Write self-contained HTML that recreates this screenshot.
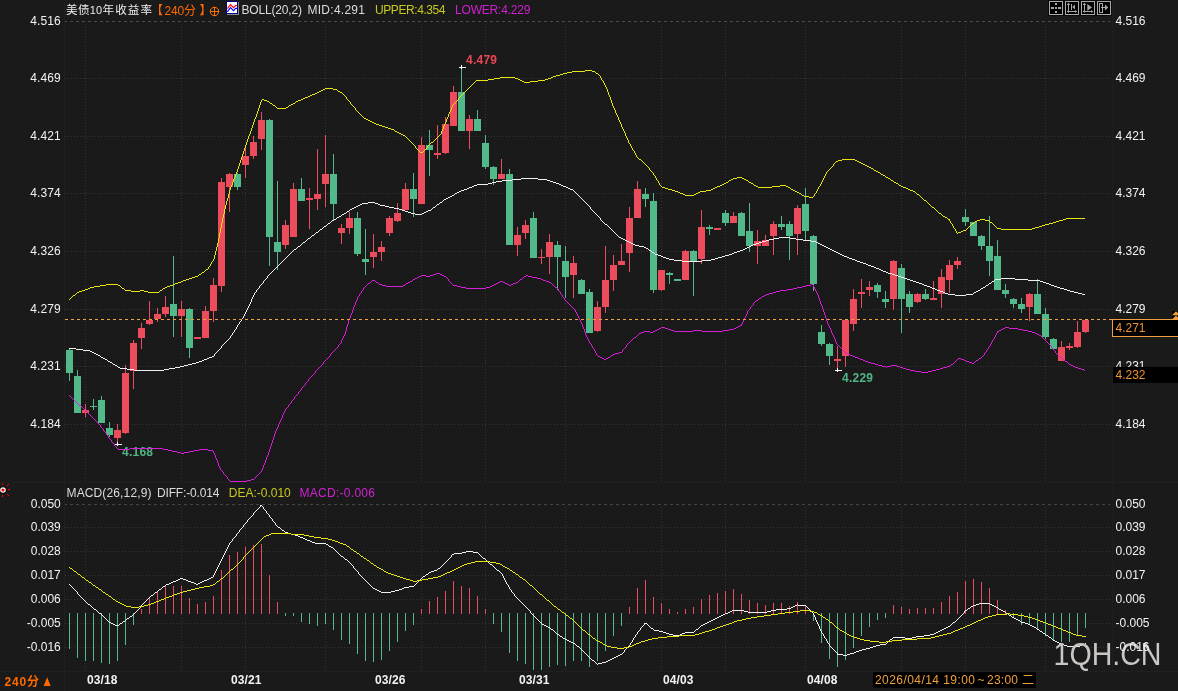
<!DOCTYPE html>
<html lang="zh"><head><meta charset="utf-8"><title>美债10年收益率 240分</title>
<style>
html,body{margin:0;padding:0;background:#1a1a1a;}
body{width:1178px;height:691px;overflow:hidden;position:relative;}
svg{display:block;position:absolute;left:0;top:0;}
text{font-family:"Liberation Sans","Noto Sans CJK SC",sans-serif;font-size:12px;}
.ax{fill:#f2f2f2;}
.b{font-weight:bold;}
.ce{shape-rendering:crispEdges;}
</style></head><body>
<svg width="1178" height="691" viewBox="0 0 1178 691">
<rect x="0" y="0" width="1178" height="691" fill="#1a1a1a"/>
<g class="ce" stroke="#202020" stroke-width="1" fill="none">
<line x1="64.5" y1="0" x2="64.5" y2="691"/>
<line x1="1112.5" y1="0" x2="1112.5" y2="671" stroke="#1e1e1e"/>
<line x1="0" y1="482.5" x2="1178" y2="482.5"/>
<line x1="0" y1="671.5" x2="1178" y2="671.5"/>
</g>
<g class="ce" stroke="#353535" stroke-width="1" fill="none">
<line x1="65" y1="21.5" x2="1110" y2="21.5" stroke="#4a4a4a" stroke-dasharray="3 3" stroke-dashoffset="1"/>
<line x1="65" y1="504.5" x2="1110" y2="504.5" stroke="#444444" stroke-dasharray="3 3" stroke-dashoffset="1"/>
<line x1="65" y1="78.5" x2="1110" y2="78.5" stroke-dasharray="1 2"/>
<line x1="65" y1="136.5" x2="1110" y2="136.5" stroke-dasharray="1 2"/>
<line x1="65" y1="193.5" x2="1110" y2="193.5" stroke-dasharray="1 2"/>
<line x1="65" y1="251.5" x2="1110" y2="251.5" stroke-dasharray="1 2"/>
<line x1="65" y1="309.5" x2="1110" y2="309.5" stroke-dasharray="1 2"/>
<line x1="65" y1="366.5" x2="1110" y2="366.5" stroke-dasharray="1 2"/>
<line x1="65" y1="424.5" x2="1110" y2="424.5" stroke-dasharray="1 2"/>
<line x1="65" y1="527.5" x2="1110" y2="527.5" stroke-dasharray="1 2"/>
<line x1="65" y1="551.5" x2="1110" y2="551.5" stroke-dasharray="1 2"/>
<line x1="65" y1="575.5" x2="1110" y2="575.5" stroke-dasharray="1 2"/>
<line x1="65" y1="599.5" x2="1110" y2="599.5" stroke-dasharray="1 2"/>
<line x1="65" y1="623.5" x2="1110" y2="623.5" stroke-dasharray="1 2"/>
<line x1="65" y1="647.5" x2="1110" y2="647.5" stroke-dasharray="1 2"/>
<line x1="85.5" y1="24" x2="85.5" y2="481" stroke-dasharray="1 2"/>
<line x1="85.5" y1="507" x2="85.5" y2="670" stroke-dasharray="1 2"/>
<line x1="181.5" y1="24" x2="181.5" y2="481" stroke-dasharray="1 2"/>
<line x1="181.5" y1="507" x2="181.5" y2="670" stroke-dasharray="1 2"/>
<line x1="245.5" y1="24" x2="245.5" y2="481" stroke-dasharray="1 2"/>
<line x1="245.5" y1="507" x2="245.5" y2="670" stroke-dasharray="1 2"/>
<line x1="325.5" y1="24" x2="325.5" y2="481" stroke-dasharray="1 2"/>
<line x1="325.5" y1="507" x2="325.5" y2="670" stroke-dasharray="1 2"/>
<line x1="421.5" y1="24" x2="421.5" y2="481" stroke-dasharray="1 2"/>
<line x1="421.5" y1="507" x2="421.5" y2="670" stroke-dasharray="1 2"/>
<line x1="485.5" y1="24" x2="485.5" y2="481" stroke-dasharray="1 2"/>
<line x1="485.5" y1="507" x2="485.5" y2="670" stroke-dasharray="1 2"/>
<line x1="565.5" y1="24" x2="565.5" y2="481" stroke-dasharray="1 2"/>
<line x1="565.5" y1="507" x2="565.5" y2="670" stroke-dasharray="1 2"/>
<line x1="661.5" y1="24" x2="661.5" y2="481" stroke-dasharray="1 2"/>
<line x1="661.5" y1="507" x2="661.5" y2="670" stroke-dasharray="1 2"/>
<line x1="725.5" y1="24" x2="725.5" y2="481" stroke-dasharray="1 2"/>
<line x1="725.5" y1="507" x2="725.5" y2="670" stroke-dasharray="1 2"/>
<line x1="805.5" y1="24" x2="805.5" y2="481" stroke-dasharray="1 2"/>
<line x1="805.5" y1="507" x2="805.5" y2="670" stroke-dasharray="1 2"/>
<line x1="901.5" y1="24" x2="901.5" y2="481" stroke-dasharray="1 2"/>
<line x1="901.5" y1="507" x2="901.5" y2="670" stroke-dasharray="1 2"/>
<line x1="965.5" y1="24" x2="965.5" y2="481" stroke-dasharray="1 2"/>
<line x1="965.5" y1="507" x2="965.5" y2="670" stroke-dasharray="1 2"/>
<line x1="1045.5" y1="24" x2="1045.5" y2="481" stroke-dasharray="1 2"/>
<line x1="1045.5" y1="507" x2="1045.5" y2="670" stroke-dasharray="1 2"/>
</g>
<g class="ce">
<rect x="69" y="348" width="1" height="33" fill="#52ba8a"/>
<rect x="66" y="350" width="7" height="23" fill="#52ba8a"/>
<rect x="77" y="370" width="1" height="43" fill="#52ba8a"/>
<rect x="74" y="376" width="7" height="37" fill="#52ba8a"/>
<rect x="85" y="404" width="1" height="13" fill="#ec4c5c"/>
<rect x="82" y="410" width="7" height="3" fill="#ec4c5c"/>
<rect x="93" y="399" width="1" height="11" fill="#52ba8a"/>
<rect x="90" y="406" width="7" height="1" fill="#52ba8a"/>
<rect x="101" y="396" width="1" height="27" fill="#52ba8a"/>
<rect x="98" y="400" width="7" height="23" fill="#52ba8a"/>
<rect x="109" y="422" width="1" height="15" fill="#52ba8a"/>
<rect x="106" y="428" width="7" height="7" fill="#52ba8a"/>
<rect x="117" y="424" width="1" height="20" fill="#ec4c5c"/>
<rect x="114" y="430" width="7" height="8" fill="#ec4c5c"/>
<rect x="125" y="365" width="1" height="69" fill="#ec4c5c"/>
<rect x="122" y="373" width="7" height="60" fill="#ec4c5c"/>
<rect x="133" y="340" width="1" height="49" fill="#ec4c5c"/>
<rect x="130" y="343" width="7" height="28" fill="#ec4c5c"/>
<rect x="141" y="323" width="1" height="26" fill="#ec4c5c"/>
<rect x="138" y="328" width="7" height="10" fill="#ec4c5c"/>
<rect x="149" y="301" width="1" height="24" fill="#ec4c5c"/>
<rect x="146" y="320" width="7" height="4" fill="#ec4c5c"/>
<rect x="157" y="308" width="1" height="14" fill="#ec4c5c"/>
<rect x="154" y="314" width="7" height="5" fill="#ec4c5c"/>
<rect x="165" y="296" width="1" height="21" fill="#ec4c5c"/>
<rect x="162" y="307" width="7" height="7" fill="#ec4c5c"/>
<rect x="173" y="256" width="1" height="81" fill="#52ba8a"/>
<rect x="170" y="304" width="7" height="12" fill="#52ba8a"/>
<rect x="181" y="301" width="1" height="36" fill="#ec4c5c"/>
<rect x="178" y="309" width="7" height="7" fill="#ec4c5c"/>
<rect x="189" y="308" width="1" height="50" fill="#52ba8a"/>
<rect x="186" y="309" width="7" height="39" fill="#52ba8a"/>
<rect x="197" y="337" width="1" height="2" fill="#ec4c5c"/>
<rect x="194" y="337" width="7" height="2" fill="#ec4c5c"/>
<rect x="205" y="306" width="1" height="32" fill="#ec4c5c"/>
<rect x="202" y="311" width="7" height="27" fill="#ec4c5c"/>
<rect x="213" y="278" width="1" height="44" fill="#ec4c5c"/>
<rect x="210" y="285" width="7" height="26" fill="#ec4c5c"/>
<rect x="221" y="178" width="1" height="114" fill="#ec4c5c"/>
<rect x="218" y="182" width="7" height="104" fill="#ec4c5c"/>
<rect x="229" y="173" width="1" height="39" fill="#ec4c5c"/>
<rect x="226" y="174" width="7" height="13" fill="#ec4c5c"/>
<rect x="237" y="173" width="1" height="17" fill="#52ba8a"/>
<rect x="234" y="174" width="7" height="13" fill="#52ba8a"/>
<rect x="245" y="148" width="1" height="30" fill="#ec4c5c"/>
<rect x="242" y="156" width="7" height="9" fill="#ec4c5c"/>
<rect x="253" y="136" width="1" height="23" fill="#ec4c5c"/>
<rect x="250" y="142" width="7" height="14" fill="#ec4c5c"/>
<rect x="261" y="112" width="1" height="38" fill="#ec4c5c"/>
<rect x="258" y="120" width="7" height="19" fill="#ec4c5c"/>
<rect x="269" y="119" width="1" height="147" fill="#52ba8a"/>
<rect x="266" y="120" width="7" height="117" fill="#52ba8a"/>
<rect x="277" y="181" width="1" height="89" fill="#52ba8a"/>
<rect x="274" y="242" width="7" height="10" fill="#52ba8a"/>
<rect x="285" y="220" width="1" height="29" fill="#ec4c5c"/>
<rect x="282" y="225" width="7" height="20" fill="#ec4c5c"/>
<rect x="293" y="183" width="1" height="54" fill="#ec4c5c"/>
<rect x="290" y="189" width="7" height="48" fill="#ec4c5c"/>
<rect x="301" y="178" width="1" height="23" fill="#52ba8a"/>
<rect x="298" y="189" width="7" height="12" fill="#52ba8a"/>
<rect x="309" y="188" width="1" height="41" fill="#ec4c5c"/>
<rect x="306" y="198" width="7" height="2" fill="#ec4c5c"/>
<rect x="317" y="149" width="1" height="61" fill="#ec4c5c"/>
<rect x="314" y="194" width="7" height="5" fill="#ec4c5c"/>
<rect x="325" y="135" width="1" height="72" fill="#ec4c5c"/>
<rect x="322" y="174" width="7" height="10" fill="#ec4c5c"/>
<rect x="333" y="154" width="1" height="66" fill="#52ba8a"/>
<rect x="330" y="174" width="7" height="30" fill="#52ba8a"/>
<rect x="341" y="224" width="1" height="20" fill="#ec4c5c"/>
<rect x="338" y="228" width="7" height="5" fill="#ec4c5c"/>
<rect x="349" y="212" width="1" height="22" fill="#ec4c5c"/>
<rect x="346" y="218" width="7" height="10" fill="#ec4c5c"/>
<rect x="357" y="212" width="1" height="44" fill="#52ba8a"/>
<rect x="354" y="218" width="7" height="36" fill="#52ba8a"/>
<rect x="365" y="229" width="1" height="46" fill="#52ba8a"/>
<rect x="362" y="259" width="7" height="3" fill="#52ba8a"/>
<rect x="373" y="234" width="1" height="34" fill="#ec4c5c"/>
<rect x="370" y="252" width="7" height="5" fill="#ec4c5c"/>
<rect x="381" y="241" width="1" height="20" fill="#ec4c5c"/>
<rect x="378" y="247" width="7" height="5" fill="#ec4c5c"/>
<rect x="389" y="216" width="1" height="20" fill="#ec4c5c"/>
<rect x="386" y="218" width="7" height="15" fill="#ec4c5c"/>
<rect x="397" y="203" width="1" height="19" fill="#ec4c5c"/>
<rect x="394" y="213" width="7" height="8" fill="#ec4c5c"/>
<rect x="405" y="183" width="1" height="27" fill="#ec4c5c"/>
<rect x="402" y="189" width="7" height="21" fill="#ec4c5c"/>
<rect x="413" y="173" width="1" height="44" fill="#52ba8a"/>
<rect x="410" y="189" width="7" height="10" fill="#52ba8a"/>
<rect x="421" y="137" width="1" height="67" fill="#ec4c5c"/>
<rect x="418" y="145" width="7" height="59" fill="#ec4c5c"/>
<rect x="429" y="130" width="1" height="46" fill="#52ba8a"/>
<rect x="426" y="145" width="7" height="5" fill="#52ba8a"/>
<rect x="437" y="125" width="1" height="34" fill="#ec4c5c"/>
<rect x="434" y="153" width="7" height="2" fill="#ec4c5c"/>
<rect x="445" y="117" width="1" height="37" fill="#ec4c5c"/>
<rect x="442" y="124" width="7" height="29" fill="#ec4c5c"/>
<rect x="453" y="86" width="1" height="40" fill="#ec4c5c"/>
<rect x="450" y="92" width="7" height="34" fill="#ec4c5c"/>
<rect x="461" y="68" width="1" height="63" fill="#52ba8a"/>
<rect x="458" y="92" width="7" height="39" fill="#52ba8a"/>
<rect x="469" y="115" width="1" height="34" fill="#ec4c5c"/>
<rect x="466" y="119" width="7" height="12" fill="#ec4c5c"/>
<rect x="477" y="110" width="1" height="21" fill="#52ba8a"/>
<rect x="474" y="119" width="7" height="12" fill="#52ba8a"/>
<rect x="485" y="135" width="1" height="34" fill="#52ba8a"/>
<rect x="482" y="143" width="7" height="24" fill="#52ba8a"/>
<rect x="493" y="166" width="1" height="19" fill="#52ba8a"/>
<rect x="490" y="167" width="7" height="12" fill="#52ba8a"/>
<rect x="501" y="159" width="1" height="20" fill="#ec4c5c"/>
<rect x="498" y="174" width="7" height="5" fill="#ec4c5c"/>
<rect x="509" y="169" width="1" height="76" fill="#52ba8a"/>
<rect x="506" y="174" width="7" height="71" fill="#52ba8a"/>
<rect x="517" y="227" width="1" height="29" fill="#ec4c5c"/>
<rect x="514" y="235" width="7" height="10" fill="#ec4c5c"/>
<rect x="525" y="220" width="1" height="19" fill="#ec4c5c"/>
<rect x="522" y="225" width="7" height="8" fill="#ec4c5c"/>
<rect x="533" y="212" width="1" height="46" fill="#52ba8a"/>
<rect x="530" y="218" width="7" height="40" fill="#52ba8a"/>
<rect x="541" y="249" width="1" height="15" fill="#ec4c5c"/>
<rect x="538" y="257" width="7" height="1" fill="#ec4c5c"/>
<rect x="549" y="234" width="1" height="40" fill="#ec4c5c"/>
<rect x="546" y="242" width="7" height="15" fill="#ec4c5c"/>
<rect x="557" y="241" width="1" height="49" fill="#52ba8a"/>
<rect x="554" y="245" width="7" height="12" fill="#52ba8a"/>
<rect x="565" y="246" width="1" height="52" fill="#52ba8a"/>
<rect x="562" y="261" width="7" height="16" fill="#52ba8a"/>
<rect x="573" y="256" width="1" height="42" fill="#ec4c5c"/>
<rect x="570" y="263" width="7" height="12" fill="#ec4c5c"/>
<rect x="581" y="279" width="1" height="15" fill="#52ba8a"/>
<rect x="578" y="280" width="7" height="14" fill="#52ba8a"/>
<rect x="589" y="289" width="1" height="44" fill="#52ba8a"/>
<rect x="586" y="292" width="7" height="41" fill="#52ba8a"/>
<rect x="597" y="301" width="1" height="31" fill="#ec4c5c"/>
<rect x="594" y="307" width="7" height="24" fill="#ec4c5c"/>
<rect x="605" y="246" width="1" height="67" fill="#ec4c5c"/>
<rect x="602" y="280" width="7" height="27" fill="#ec4c5c"/>
<rect x="613" y="255" width="1" height="36" fill="#ec4c5c"/>
<rect x="610" y="265" width="7" height="15" fill="#ec4c5c"/>
<rect x="621" y="244" width="1" height="21" fill="#ec4c5c"/>
<rect x="618" y="261" width="7" height="4" fill="#ec4c5c"/>
<rect x="629" y="207" width="1" height="65" fill="#ec4c5c"/>
<rect x="626" y="218" width="7" height="35" fill="#ec4c5c"/>
<rect x="637" y="181" width="1" height="37" fill="#ec4c5c"/>
<rect x="634" y="189" width="7" height="29" fill="#ec4c5c"/>
<rect x="645" y="188" width="1" height="19" fill="#52ba8a"/>
<rect x="642" y="194" width="7" height="5" fill="#52ba8a"/>
<rect x="653" y="193" width="1" height="100" fill="#52ba8a"/>
<rect x="650" y="201" width="7" height="89" fill="#52ba8a"/>
<rect x="661" y="270" width="1" height="21" fill="#ec4c5c"/>
<rect x="658" y="270" width="7" height="20" fill="#ec4c5c"/>
<rect x="669" y="272" width="1" height="12" fill="#52ba8a"/>
<rect x="666" y="273" width="7" height="2" fill="#52ba8a"/>
<rect x="677" y="279" width="1" height="2" fill="#52ba8a"/>
<rect x="674" y="279" width="7" height="2" fill="#52ba8a"/>
<rect x="685" y="250" width="1" height="30" fill="#ec4c5c"/>
<rect x="682" y="251" width="7" height="29" fill="#ec4c5c"/>
<rect x="693" y="250" width="1" height="46" fill="#52ba8a"/>
<rect x="690" y="251" width="7" height="10" fill="#52ba8a"/>
<rect x="701" y="210" width="1" height="54" fill="#ec4c5c"/>
<rect x="698" y="227" width="7" height="32" fill="#ec4c5c"/>
<rect x="709" y="225" width="1" height="10" fill="#52ba8a"/>
<rect x="706" y="227" width="7" height="2" fill="#52ba8a"/>
<rect x="717" y="228" width="1" height="2" fill="#ec4c5c"/>
<rect x="714" y="228" width="7" height="2" fill="#ec4c5c"/>
<rect x="725" y="210" width="1" height="16" fill="#52ba8a"/>
<rect x="722" y="213" width="7" height="10" fill="#52ba8a"/>
<rect x="733" y="212" width="1" height="11" fill="#ec4c5c"/>
<rect x="730" y="216" width="7" height="7" fill="#ec4c5c"/>
<rect x="741" y="212" width="1" height="24" fill="#52ba8a"/>
<rect x="738" y="213" width="7" height="23" fill="#52ba8a"/>
<rect x="749" y="203" width="1" height="49" fill="#52ba8a"/>
<rect x="746" y="231" width="7" height="15" fill="#52ba8a"/>
<rect x="757" y="230" width="1" height="34" fill="#ec4c5c"/>
<rect x="754" y="241" width="7" height="5" fill="#ec4c5c"/>
<rect x="765" y="235" width="1" height="11" fill="#ec4c5c"/>
<rect x="762" y="240" width="7" height="6" fill="#ec4c5c"/>
<rect x="773" y="221" width="1" height="34" fill="#ec4c5c"/>
<rect x="770" y="224" width="7" height="12" fill="#ec4c5c"/>
<rect x="781" y="216" width="1" height="14" fill="#52ba8a"/>
<rect x="778" y="224" width="7" height="3" fill="#52ba8a"/>
<rect x="789" y="221" width="1" height="39" fill="#52ba8a"/>
<rect x="786" y="224" width="7" height="12" fill="#52ba8a"/>
<rect x="797" y="205" width="1" height="50" fill="#ec4c5c"/>
<rect x="794" y="208" width="7" height="26" fill="#ec4c5c"/>
<rect x="805" y="188" width="1" height="52" fill="#52ba8a"/>
<rect x="802" y="204" width="7" height="27" fill="#52ba8a"/>
<rect x="813" y="235" width="1" height="56" fill="#52ba8a"/>
<rect x="810" y="236" width="7" height="48" fill="#52ba8a"/>
<rect x="821" y="325" width="1" height="21" fill="#52ba8a"/>
<rect x="818" y="332" width="7" height="12" fill="#52ba8a"/>
<rect x="829" y="343" width="1" height="22" fill="#52ba8a"/>
<rect x="826" y="344" width="7" height="12" fill="#52ba8a"/>
<rect x="837" y="346" width="1" height="24" fill="#ec4c5c"/>
<rect x="834" y="359" width="7" height="2" fill="#ec4c5c"/>
<rect x="845" y="319" width="1" height="48" fill="#ec4c5c"/>
<rect x="842" y="320" width="7" height="36" fill="#ec4c5c"/>
<rect x="853" y="289" width="1" height="42" fill="#ec4c5c"/>
<rect x="850" y="299" width="7" height="25" fill="#ec4c5c"/>
<rect x="861" y="279" width="1" height="29" fill="#ec4c5c"/>
<rect x="858" y="292" width="7" height="2" fill="#ec4c5c"/>
<rect x="869" y="281" width="1" height="15" fill="#ec4c5c"/>
<rect x="866" y="287" width="7" height="3" fill="#ec4c5c"/>
<rect x="877" y="283" width="1" height="15" fill="#52ba8a"/>
<rect x="874" y="285" width="7" height="7" fill="#52ba8a"/>
<rect x="885" y="291" width="1" height="17" fill="#52ba8a"/>
<rect x="882" y="299" width="7" height="3" fill="#52ba8a"/>
<rect x="893" y="260" width="1" height="50" fill="#ec4c5c"/>
<rect x="890" y="261" width="7" height="38" fill="#ec4c5c"/>
<rect x="901" y="264" width="1" height="69" fill="#52ba8a"/>
<rect x="898" y="268" width="7" height="31" fill="#52ba8a"/>
<rect x="909" y="291" width="1" height="22" fill="#52ba8a"/>
<rect x="906" y="294" width="7" height="13" fill="#52ba8a"/>
<rect x="917" y="293" width="1" height="10" fill="#ec4c5c"/>
<rect x="914" y="294" width="7" height="8" fill="#ec4c5c"/>
<rect x="925" y="289" width="1" height="11" fill="#52ba8a"/>
<rect x="922" y="294" width="7" height="5" fill="#52ba8a"/>
<rect x="933" y="281" width="1" height="19" fill="#ec4c5c"/>
<rect x="930" y="298" width="7" height="2" fill="#ec4c5c"/>
<rect x="941" y="269" width="1" height="39" fill="#ec4c5c"/>
<rect x="938" y="277" width="7" height="17" fill="#ec4c5c"/>
<rect x="949" y="260" width="1" height="33" fill="#ec4c5c"/>
<rect x="946" y="265" width="7" height="15" fill="#ec4c5c"/>
<rect x="957" y="257" width="1" height="12" fill="#ec4c5c"/>
<rect x="954" y="261" width="7" height="4" fill="#ec4c5c"/>
<rect x="965" y="209" width="1" height="17" fill="#52ba8a"/>
<rect x="962" y="217" width="7" height="5" fill="#52ba8a"/>
<rect x="973" y="222" width="1" height="14" fill="#52ba8a"/>
<rect x="970" y="222" width="7" height="14" fill="#52ba8a"/>
<rect x="981" y="235" width="1" height="15" fill="#52ba8a"/>
<rect x="978" y="236" width="7" height="10" fill="#52ba8a"/>
<rect x="989" y="216" width="1" height="60" fill="#52ba8a"/>
<rect x="986" y="246" width="7" height="15" fill="#52ba8a"/>
<rect x="997" y="240" width="1" height="50" fill="#52ba8a"/>
<rect x="994" y="256" width="7" height="34" fill="#52ba8a"/>
<rect x="1005" y="284" width="1" height="14" fill="#52ba8a"/>
<rect x="1002" y="290" width="7" height="4" fill="#52ba8a"/>
<rect x="1013" y="298" width="1" height="10" fill="#52ba8a"/>
<rect x="1010" y="299" width="7" height="5" fill="#52ba8a"/>
<rect x="1021" y="298" width="1" height="15" fill="#52ba8a"/>
<rect x="1018" y="304" width="7" height="5" fill="#52ba8a"/>
<rect x="1029" y="293" width="1" height="28" fill="#ec4c5c"/>
<rect x="1026" y="294" width="7" height="13" fill="#ec4c5c"/>
<rect x="1037" y="279" width="1" height="35" fill="#52ba8a"/>
<rect x="1034" y="294" width="7" height="20" fill="#52ba8a"/>
<rect x="1045" y="308" width="1" height="31" fill="#52ba8a"/>
<rect x="1042" y="314" width="7" height="23" fill="#52ba8a"/>
<rect x="1053" y="338" width="1" height="11" fill="#52ba8a"/>
<rect x="1050" y="339" width="7" height="10" fill="#52ba8a"/>
<rect x="1061" y="341" width="1" height="20" fill="#ec4c5c"/>
<rect x="1058" y="347" width="7" height="14" fill="#ec4c5c"/>
<rect x="1069" y="343" width="1" height="7" fill="#ec4c5c"/>
<rect x="1066" y="346" width="7" height="2" fill="#ec4c5c"/>
<rect x="1077" y="321" width="1" height="27" fill="#ec4c5c"/>
<rect x="1074" y="332" width="7" height="15" fill="#ec4c5c"/>
<rect x="1085" y="319" width="1" height="14" fill="#ec4c5c"/>
<rect x="1082" y="320" width="7" height="12" fill="#ec4c5c"/>
</g>
<text class="b" x="466" y="64" fill="#eb4655" textLength="31">4.479</text>
<text class="b" x="122" y="456" fill="#4fb486" textLength="31">4.168</text>
<text class="b" x="842" y="382" fill="#4fb486" textLength="31">4.229</text>
<path class="ce" d="M630.5 144v2M620.5 122v2M631.5 146v2M612.5 103v3M634.5 151v2M816.5 191v2M615.5 110v3M225.5 205v4M627.5 138v2M346.5 97v2M452.5 105v2M230.5 187v3M441.5 131v3M619.5 120v2M208.5 267v2M221.5 223v5M444.5 124v2M259.5 105v3M608.5 92v3M656.5 178v2M251.5 128v3M826.5 172v2M229.5 190v4M226.5 201v4M216.5 247v4M258.5 108v3M250.5 131v3M350.5 102v2M659.5 183v2M220.5 228v5M233.5 179v3M224.5 209v5M833.5 164v2M626.5 136v2M238.5 166v3M443.5 126v3M242.5 154v3M254.5 119v3M611.5 100v3M211.5 262v2M237.5 169v3M618.5 117v3M448.5 114v3M655.5 176v2M658.5 181v2M241.5 157v3M253.5 122v3M625.5 133v3M427.5 146v2M215.5 251v4M825.5 174v2M621.5 124v3M245.5 145v3M257.5 111v3M223.5 214v4M249.5 134v2M261.5 100v2M607.5 89v3M442.5 129v2M451.5 107v3M628.5 140v3M228.5 194v4M240.5 160v3M244.5 148v3M256.5 114v3M219.5 233v5M210.5 264v2M236.5 172v2M248.5 136v3M260.5 102v3M450.5 110v2M227.5 198v3M239.5 163v3M214.5 255v4M243.5 151v3M653.5 173v2M824.5 176v2M600.5 76v2M252.5 125v3M603.5 81v2M218.5 238v5M222.5 218v5M235.5 174v3M610.5 97v3M217.5 243v4M617.5 115v2M255.5 117v2M606.5 87v2M449.5 112v2M213.5 259v2M624.5 131v2M415.5 146v2M247.5 139v3M446.5 119v3M616.5 113v2M246.5 142v3M623.5 129v2M823.5 178v2M649.5 168v2M605.5 85v2M601.5 78v2M234.5 177v2M609.5 95v2M604.5 83v2M822.5 180v2M814.5 194v2M622.5 127v2M950.5 221v2M818.5 187v2M232.5 182v3M447.5 117v2M953.5 226v2M949.5 219v2M636.5 155v2M632.5 148v2M821.5 182v2M817.5 189v2M956.5 231v2M614.5 108v2M458.5 98v2M952.5 224v2M231.5 185v2M355.5 108v2M635.5 153v2M613.5 106v2M445.5 122v2M820.5 184v2M955.5 229v2M977 220.5h3M985 220.5h4M1059 220.5h4M556 75.5h4M599 75.5h1M947 218.5h1M1066 218.5h19M672 190.5h3M706 190.5h5M793 190.5h2M910 190.5h3M82 290.5h3M125 290.5h6M140 290.5h4M160 290.5h2M275 106.5h1M288 106.5h1M353 106.5h1M494 78.5h6M515 78.5h3M548 78.5h3M476 80.5h12M520 80.5h2M538 80.5h7M602 80.5h1M638 158.5h1M642 161.5h1M836 161.5h2M857 161.5h2M660 185.5h1M720 185.5h2M754 185.5h2M780 185.5h6M899 185.5h2M661 186.5h1M717 186.5h3M756 186.5h2M772 186.5h8M786 186.5h2M819 186.5h1M901 186.5h2M970 225.5h1M994 225.5h1M1042 225.5h3M971 224.5h1M993 224.5h1M1045 224.5h4M488 79.5h6M518 79.5h2M545 79.5h3M410 141.5h1M433 141.5h1M665 188.5h3M713 188.5h2M790 188.5h1M906 188.5h2M662 187.5h3M715 187.5h2M758 187.5h14M788 187.5h2M903 187.5h3M685 195.5h9M802 195.5h2M919 195.5h1M264 100.5h3M298 100.5h3M348 100.5h1M457 100.5h1M391 129.5h3M94 286.5h6M120 286.5h1M167 286.5h3M804 196.5h5M813 196.5h1M920 196.5h1M270 103.5h2M293 103.5h2M454 103.5h1M262 99.5h2M301 99.5h2M347 99.5h1M726 182.5h2M749 182.5h2M894 182.5h2M474 82.5h1M524 82.5h6M305 97.5h3M459 97.5h1M417 149.5h1M425 149.5h1M951 223.5h1M972 223.5h2M992 223.5h1M1049 223.5h4M106 284.5h12M173 284.5h2M728 181.5h1M748 181.5h1M893 181.5h1M724 183.5h2M751 183.5h2M896 183.5h2M809 197.5h4M921 197.5h1M500 77.5h15M551 77.5h2M641 160.5h1M838 160.5h4M855 160.5h2M77 292.5h2M148 292.5h11M418 150.5h1M424 150.5h1M633 150.5h1M315 93.5h2M342 93.5h1M463 93.5h1M675 191.5h3M700 191.5h6M795 191.5h2M913 191.5h2M948 219.5h1M980 219.5h5M1063 219.5h3M567 72.5h5M595 72.5h1M966 229.5h1M1001 229.5h31M657 180.5h1M729 180.5h2M746 180.5h2M891 180.5h2M411 142.5h1M431 142.5h2M961 231.5h2M100 285.5h6M118 285.5h2M170 285.5h3M79 291.5h3M131 291.5h9M144 291.5h4M159 291.5h1M201 273.5h1M475 81.5h1M522 81.5h2M530 81.5h8M737 177.5h5M886 177.5h2M975 221.5h2M989 221.5h1M1056 221.5h3M409 140.5h1M434 140.5h1M277 108.5h9M357 111.5h1M412 143.5h1M430 143.5h1M629 143.5h1M639 159.5h2M842 159.5h13M954 228.5h1M967 228.5h1M997 228.5h4M1032 228.5h3M325 88.5h8M468 88.5h1M181 281.5h2M572 71.5h13M592 71.5h3M668 189.5h4M711 189.5h2M791 189.5h2M908 189.5h2M935 209.5h1M175 283.5h3M563 73.5h4M596 73.5h2M364 118.5h2M644 163.5h1M834 163.5h1M861 163.5h2M936 210.5h1M472 84.5h1M192 277.5h3M680 193.5h3M696 193.5h2M799 193.5h2M815 193.5h1M916 193.5h1M924 200.5h2M645 164.5h1M863 164.5h2M731 179.5h2M744 179.5h2M890 179.5h1M733 178.5h4M742 178.5h2M888 178.5h2M651 171.5h1M827 171.5h1M876 171.5h2M652 172.5h1M878 172.5h2M654 175.5h1M883 175.5h2M312 94.5h3M343 94.5h1M462 94.5h1M90 287.5h4M121 287.5h1M165 287.5h2M932 207.5h2M585 70.5h7M308 96.5h2M345 96.5h1M460 96.5h1M407 138.5h1M436 138.5h1M85 289.5h3M124 289.5h1M162 289.5h1M202 272.5h2M969 226.5h1M995 226.5h1M1039 226.5h3M379 125.5h3M370 121.5h2M269 102.5h1M295 102.5h1M455 102.5h1M267 101.5h2M296 101.5h2M349 101.5h1M456 101.5h1M372 122.5h2M186 279.5h3M303 98.5h2M374 123.5h2M366 119.5h2M403 135.5h2M439 135.5h1M678 192.5h2M698 192.5h2M797 192.5h2M915 192.5h1M368 120.5h2M931 206.5h1M942 215.5h1M69 299.5h1M323 89.5h2M333 89.5h4M467 89.5h1M963 230.5h3M88 288.5h2M122 288.5h2M163 288.5h2M683 194.5h2M694 194.5h2M801 194.5h1M917 194.5h2M206 269.5h2M830 168.5h1M871 168.5h2M199 274.5h2M968 227.5h1M996 227.5h1M1035 227.5h4M553 76.5h3M385 127.5h3M945 217.5h2M419 151.5h1M423 151.5h1M420 152.5h3M178 282.5h3M560 74.5h3M598 74.5h1M405 136.5h1M438 136.5h1M397 132.5h2M647 166.5h1M832 166.5h1M867 166.5h2M650 170.5h1M828 170.5h1M874 170.5h2M643 162.5h1M835 162.5h1M859 162.5h2M183 280.5h3M722 184.5h2M753 184.5h1M898 184.5h1M399 133.5h2M958 232.5h3M974 222.5h1M990 222.5h2M1053 222.5h3M401 134.5h2M440 134.5h1M195 276.5h3M317 92.5h2M340 92.5h2M464 92.5h1M310 95.5h2M344 95.5h1M461 95.5h1M73 295.5h2M189 278.5h3M937 211.5h1M938 212.5h1M321 90.5h2M337 90.5h1M466 90.5h1M388 128.5h3M276 107.5h1M286 107.5h2M354 107.5h1M272 104.5h1M291 104.5h2M351 104.5h1M453 104.5h1M359 113.5h1M469 87.5h1M646 165.5h1M865 165.5h2M926 201.5h1M205 270.5h1M358 112.5h1M198 275.5h1M416 148.5h1M426 148.5h1M71 297.5h1M376 124.5h3M75 294.5h1M473 83.5h1M413 144.5h1M429 144.5h1M922 198.5h1M273 105.5h2M289 105.5h2M352 105.5h1M406 137.5h1M437 137.5h1M382 126.5h3M943 216.5h2M209 266.5h1M319 91.5h2M338 91.5h2M465 91.5h1M880 173.5h1M395 131.5h2M648 167.5h1M831 167.5h1M869 167.5h2M928 203.5h1M939 213.5h2M360 114.5h1M361 115.5h1M471 85.5h1M394 130.5h1M204 271.5h1M70 298.5h1M408 139.5h1M435 139.5h1M414 145.5h1M428 145.5h1M212 261.5h1M927 202.5h1M957 233.5h1M829 169.5h1M873 169.5h1M923 199.5h1M356 110.5h1M885 176.5h1M934 208.5h1M881 174.5h2M72 296.5h1M470 86.5h1M930 205.5h1M76 293.5h1M362 116.5h1M363 117.5h1M929 204.5h1M941 214.5h1M637 157.5h1" fill="none" stroke="#e6e614" stroke-width="1"/>
<path class="ce" d="M237.5 325v2M249.5 304v2M214.5 354v2M248.5 306v2M253.5 295v2M244.5 314v2M236.5 327v2M600.5 218v2M243.5 316v2M232.5 333v2M256.5 290v2M263.5 281v2M239.5 322v2M252.5 297v2M247.5 308v2M267.5 276v2M259.5 286v2M251.5 299v3M230.5 336v2M254.5 293v2M246.5 310v2M250.5 302v2M241.5 319v2M590.5 207v2M221.5 346v2M245.5 312v2M234.5 330v2M312 235.5h2M617 235.5h1M301 244.5h1M633 244.5h2M753 244.5h3M820 244.5h2M276 267.5h1M874 267.5h2M134 370.5h30M450 196.5h2M579 196.5h1M107 360.5h1M202 360.5h2M293 250.5h1M649 250.5h2M740 250.5h3M832 250.5h2M358 205.5h2M380 205.5h5M436 205.5h1M588 205.5h1M442 201.5h1M584 201.5h1M467 188.5h2M568 188.5h2M264 280.5h1M910 280.5h3M994 280.5h1M1028 280.5h12M948 294.5h7M966 294.5h7M1082 294.5h3M305 241.5h1M627 241.5h2M762 241.5h4M811 241.5h5M298 246.5h2M639 246.5h5M749 246.5h2M824 246.5h2M350 209.5h2M399 209.5h3M431 209.5h1M591 209.5h1M349 210.5h1M402 210.5h3M428 210.5h3M592 210.5h1M288 255.5h1M658 255.5h3M725 255.5h4M842 255.5h2M464 189.5h3M570 189.5h3M278 265.5h1M868 265.5h3M930 287.5h2M983 287.5h2M1057 287.5h3M69 348.5h7M220 348.5h1M285 258.5h1M666 258.5h3M715 258.5h3M849 258.5h3M488 183.5h4M556 183.5h3M472 186.5h2M563 186.5h3M310 237.5h1M619 237.5h2M779 237.5h11M940 291.5h3M976 291.5h2M1070 291.5h4M347 211.5h2M405 211.5h3M426 211.5h2M593 211.5h1M120 368.5h7M169 368.5h6M502 180.5h10M547 180.5h3M469 187.5h3M566 187.5h2M289 254.5h1M655 254.5h3M729 254.5h3M840 254.5h2M270 273.5h1M888 273.5h4M346 212.5h1M408 212.5h3M424 212.5h2M594 212.5h1M306 240.5h1M625 240.5h2M766 240.5h3M803 240.5h8M368 202.5h7M440 202.5h2M585 202.5h1M266 278.5h1M904 278.5h3M1001 278.5h14M255 292.5h1M943 292.5h2M974 292.5h2M1074 292.5h4M273 270.5h1M881 270.5h2M496 181.5h6M550 181.5h3M277 266.5h1M871 266.5h3M316 232.5h2M614 232.5h1M955 295.5h11M344 213.5h2M411 213.5h4M422 213.5h2M595 213.5h1M115 365.5h2M184 365.5h4M265 279.5h1M907 279.5h3M995 279.5h6M1015 279.5h13M913 281.5h3M992 281.5h2M1040 281.5h3M446 198.5h2M581 198.5h1M282 261.5h1M682 261.5h20M857 261.5h3M512 179.5h9M538 179.5h9M319 230.5h1M612 230.5h1M320 229.5h2M611 229.5h1M272 271.5h1M883 271.5h3M307 239.5h1M623 239.5h2M769 239.5h5M796 239.5h7M286 257.5h1M663 257.5h3M718 257.5h4M847 257.5h2M916 282.5h3M991 282.5h1M1043 282.5h3M283 260.5h1M674 260.5h8M702 260.5h9M855 260.5h2M98 355.5h2M225 342.5h1M275 268.5h1M876 268.5h3M477 184.5h11M559 184.5h2M308 238.5h2M621 238.5h2M774 238.5h5M790 238.5h6M112 363.5h1M192 363.5h4M100 356.5h1M212 356.5h2M92 352.5h2M216 352.5h1M332 220.5h2M601 220.5h1M302 243.5h1M631 243.5h2M756 243.5h3M818 243.5h2M521 178.5h17M269 274.5h1M892 274.5h3M261 284.5h1M922 284.5h2M988 284.5h1M1049 284.5h2M362 203.5h6M375 203.5h3M439 203.5h1M586 203.5h1M101 357.5h2M209 357.5h3M260 285.5h1M924 285.5h3M986 285.5h2M1051 285.5h3M94 353.5h2M215 353.5h1M127 369.5h7M164 369.5h5M268 275.5h1M895 275.5h3M937 290.5h3M978 290.5h2M1067 290.5h3M342 214.5h2M415 214.5h7M596 214.5h1M356 206.5h2M385 206.5h4M435 206.5h1M589 206.5h1M461 190.5h3M573 190.5h1M233 332.5h1M96 354.5h2M105 359.5h2M204 359.5h3M83 350.5h7M218 350.5h1M927 286.5h3M985 286.5h1M1054 286.5h3M117 366.5h1M180 366.5h4M257 289.5h1M935 289.5h2M980 289.5h1M1064 289.5h3M354 207.5h2M389 207.5h5M433 207.5h2M90 351.5h2M217 351.5h1M452 195.5h2M578 195.5h1M290 253.5h1M654 253.5h1M732 253.5h2M838 253.5h2M303 242.5h2M629 242.5h2M759 242.5h3M816 242.5h2M76 349.5h7M219 349.5h1M262 283.5h1M919 283.5h3M989 283.5h2M1046 283.5h3M258 288.5h1M932 288.5h3M981 288.5h2M1060 288.5h4M284 259.5h1M669 259.5h5M711 259.5h4M852 259.5h3M240 321.5h1M291 252.5h1M652 252.5h2M734 252.5h3M836 252.5h2M292 251.5h1M651 251.5h1M737 251.5h3M834 251.5h2M113 364.5h2M188 364.5h4M294 249.5h2M648 249.5h1M743 249.5h2M830 249.5h2M492 182.5h4M553 182.5h3M300 245.5h1M635 245.5h4M751 245.5h2M822 245.5h2M898 276.5h3M296 248.5h1M646 248.5h2M745 248.5h2M828 248.5h2M297 247.5h1M644 247.5h2M747 247.5h2M826 247.5h2M945 293.5h3M973 293.5h1M1078 293.5h4M118 367.5h2M175 367.5h5M352 208.5h2M394 208.5h5M432 208.5h1M457 192.5h2M575 192.5h1M108 361.5h2M199 361.5h3M448 197.5h2M580 197.5h1M280 263.5h1M863 263.5h3M287 256.5h1M661 256.5h2M722 256.5h3M844 256.5h3M318 231.5h1M613 231.5h1M322 228.5h1M610 228.5h1M326 225.5h1M607 225.5h1M311 236.5h1M618 236.5h1M337 217.5h2M599 217.5h1M110 362.5h2M196 362.5h3M227 340.5h1M281 262.5h1M860 262.5h3M901 277.5h3M360 204.5h2M378 204.5h2M437 204.5h2M587 204.5h1M103 358.5h2M207 358.5h2M330 222.5h1M603 222.5h1M327 224.5h1M605 224.5h2M459 191.5h2M574 191.5h1M279 264.5h1M866 264.5h2M474 185.5h3M561 185.5h2M339 216.5h2M598 216.5h1M222 345.5h1M271 272.5h1M886 272.5h2M235 329.5h1M274 269.5h1M879 269.5h2M324 226.5h2M608 226.5h1M336 218.5h1M455 193.5h2M576 193.5h1M331 221.5h1M602 221.5h1M328 223.5h2M604 223.5h1M242 318.5h1M443 200.5h1M583 200.5h1M229 338.5h1M323 227.5h1M609 227.5h1M315 233.5h1M615 233.5h1M314 234.5h1M616 234.5h1M226 341.5h1M444 199.5h2M582 199.5h1M238 324.5h1M224 343.5h1M334 219.5h2M341 215.5h1M597 215.5h1M228 339.5h1M231 335.5h1M454 194.5h1M577 194.5h1M223 344.5h1" fill="none" stroke="#f0f0f0" stroke-width="1"/>
<path class="ce" d="M284.5 411v2M747.5 311v3M750.5 307v2M830.5 328v2M218.5 463v3M448.5 279v2M219.5 466v2M276.5 429v2M819.5 298v3M576.5 312v2M827.5 321v3M344.5 334v2M356.5 300v2M264.5 463v2M746.5 314v2M348.5 320v4M272.5 440v3M268.5 452v3M108.5 436v2M823.5 309v3M355.5 302v3M834.5 337v2M267.5 455v2M742.5 322v2M829.5 326v2M579.5 318v2M575.5 310v2M826.5 318v3M836.5 342v2M111.5 440v2M984.5 353v2M214.5 453v2M997.5 331v2M271.5 443v3M363.5 288v2M833.5 335v2M263.5 465v3M275.5 431v3M346.5 327v4M578.5 316v2M280.5 420v2M274.5 434v3M283.5 413v2M330.5 354v2M298.5 392v2M741.5 324v2M213.5 451v2M585.5 332v3M359.5 294v2M347.5 324v3M822.5 306v3M351.5 313v2M220.5 468v2M582.5 324v3M354.5 305v2M100.5 425v2M818.5 295v3M266.5 457v3M291.5 401v2M217.5 460v3M350.5 315v3M270.5 446v3M114.5 444v2M262.5 468v2M832.5 333v2M345.5 331v3M265.5 460v3M223.5 472v2M269.5 449v3M745.5 316v2M282.5 415v3M996.5 333v2M294.5 397v2M994.5 337v2M835.5 339v3M626.5 345v2M825.5 315v3M1055.5 351v2M744.5 318v2M281.5 418v2M560.5 292v2M990.5 344v2M584.5 329v3M353.5 307v3M273.5 437v3M278.5 424v3M986.5 350v2M227.5 477v2M352.5 310v3M103.5 429v2M817.5 293v2M558.5 289v2M305.5 383v2M831.5 330v3M349.5 318v2M261.5 470v2M285.5 409v2M595.5 351v2M588.5 339v2M308.5 379v2M106.5 433v2M562.5 295v2M583.5 327v2M277.5 427v2M820.5 301v3M361.5 291v2M288.5 405v2M591.5 344v2M743.5 320v2M594.5 349v2M816.5 291v2M587.5 337v2M215.5 455v3M343.5 336v2M813.5 285v2M323.5 362v2M992.5 340v2M815.5 289v2M279.5 422v2M315.5 371v2M988.5 347v2M596.5 353v2M589.5 341v2M586.5 335v2M564.5 298v2M338.5 345v2M821.5 304v2M592.5 346v2M342.5 338v2M995.5 335v2M814.5 287v2M341.5 340v3M753.5 303v2M991.5 342v2M828.5 324v2M216.5 458v2M622.5 350v2M824.5 312v3M357.5 297v3M581.5 322v2M577.5 314v2M1051.5 346v2M580.5 320v2M301.5 388v2M91 416.5h1M319 367.5h1M886 367.5h1M900 367.5h3M943 367.5h4M1075 367.5h3M644 331.5h6M653 331.5h2M674 331.5h19M702 331.5h21M998 331.5h1M1028 331.5h4M360 293.5h1M769 293.5h4M316 370.5h1M910 370.5h5M932 370.5h4M1084 370.5h1M466 288.5h20M557 288.5h1M793 288.5h4M738 326.5h2M332 352.5h1M619 352.5h3M845 352.5h1M985 352.5h1M118 449.5h12M163 449.5h5M199 449.5h9M177 452.5h4M184 452.5h5M659 328.5h2M665 328.5h3M734 328.5h2M1003 328.5h2M1009 328.5h9M372 280.5h3M412 280.5h1M519 280.5h1M543 280.5h3M97 422.5h1M773 292.5h3M419 276.5h2M426 276.5h4M444 276.5h2M524 276.5h2M528 276.5h4M368 283.5h2M378 283.5h1M406 283.5h2M451 283.5h1M496 283.5h2M505 283.5h2M513 283.5h3M551 283.5h1M639 333.5h2M1035 333.5h2M309 378.5h1M222 471.5h1M321 365.5h1M878 365.5h4M891 365.5h6M950 365.5h1M1071 365.5h2M117 448.5h1M130 448.5h33M98 423.5h1M367 284.5h1M379 284.5h3M405 284.5h1M452 284.5h1M494 284.5h2M507 284.5h2M511 284.5h2M552 284.5h1M811 284.5h2M657 329.5h2M668 329.5h3M729 329.5h5M1001 329.5h2M1018 329.5h5M636 336.5h1M1041 336.5h1M613 354.5h2M848 354.5h2M1057 354.5h1M339 344.5h1M627 344.5h1M837 344.5h1M1049 344.5h1M868 362.5h3M954 362.5h1M969 362.5h3M974 362.5h1M1067 362.5h1M655 330.5h2M671 330.5h3M693 330.5h9M723 330.5h6M999 330.5h2M1023 330.5h5M364 287.5h1M461 287.5h5M486 287.5h4M555 287.5h2M797 287.5h5M327 358.5h1M602 358.5h2M606 358.5h2M858 358.5h2M958 358.5h3M979 358.5h2M1062 358.5h1M320 366.5h1M882 366.5h4M887 366.5h4M897 366.5h3M947 366.5h3M1073 366.5h2M325 360.5h1M863 360.5h2M956 360.5h1M964 360.5h2M976 360.5h2M1064 360.5h1M365 286.5h1M386 286.5h17M457 286.5h4M490 286.5h2M554 286.5h1M802 286.5h4M915 371.5h6M928 371.5h4M324 361.5h1M865 361.5h3M955 361.5h1M966 361.5h3M975 361.5h1M1065 361.5h2M358 296.5h1M762 296.5h2M328 357.5h1M600 357.5h2M608 357.5h2M855 357.5h3M981 357.5h1M1060 357.5h2M336 348.5h1M593 348.5h1M624 348.5h1M841 348.5h1M1052 348.5h1M566 301.5h1M755 301.5h1M79 405.5h2M317 369.5h1M906 369.5h4M936 369.5h4M1081 369.5h3M331 353.5h1M615 353.5h4M846 353.5h2M1056 353.5h1M366 285.5h1M382 285.5h4M403 285.5h2M453 285.5h4M492 285.5h2M509 285.5h2M553 285.5h1M806 285.5h5M230 481.5h17M597 355.5h1M611 355.5h2M850 355.5h3M983 355.5h1M1058 355.5h1M370 282.5h1M376 282.5h2M408 282.5h2M450 282.5h1M498 282.5h2M503 282.5h2M516 282.5h2M549 282.5h2M371 281.5h1M375 281.5h1M410 281.5h2M449 281.5h1M500 281.5h3M518 281.5h1M546 281.5h3M921 372.5h7M255 477.5h1M172 451.5h5M189 451.5h5M314 373.5h1M101 427.5h1M661 327.5h4M736 327.5h2M1005 327.5h4M362 290.5h1M780 290.5h7M74 400.5h1M292 400.5h1M112 442.5h1M70 396.5h1M295 396.5h1M421 275.5h5M430 275.5h3M442 275.5h2M526 275.5h2M335 349.5h1M623 349.5h1M842 349.5h1M987 349.5h1M1053 349.5h1M436 273.5h4M333 351.5h1M844 351.5h1M417 277.5h2M446 277.5h1M523 277.5h1M532 277.5h5M221 470.5h1M168 450.5h4M194 450.5h5M208 450.5h5M568 303.5h1M764 295.5h2M632 339.5h1M993 339.5h1M1044 339.5h1M631 340.5h1M1045 340.5h1M565 300.5h1M756 300.5h2M303 386.5h1M641 332.5h3M650 332.5h3M1032 332.5h3M787 289.5h6M415 278.5h2M447 278.5h1M522 278.5h1M537 278.5h4M85 410.5h1M228 479.5h1M251 479.5h3M559 291.5h1M776 291.5h4M86 411.5h1M311 376.5h1M567 302.5h1M754 302.5h1M318 368.5h1M903 368.5h3M940 368.5h3M1078 368.5h3M871 363.5h4M953 363.5h1M972 363.5h2M1068 363.5h1M322 364.5h1M875 364.5h3M951 364.5h2M1069 364.5h2M634 337.5h2M1042 337.5h1M115 446.5h1M93 418.5h1M306 382.5h1M563 297.5h1M761 297.5h1M326 359.5h1M604 359.5h2M860 359.5h3M957 359.5h1M961 359.5h3M978 359.5h1M1063 359.5h1M574 309.5h1M749 309.5h1M224 474.5h1M258 474.5h1M329 356.5h1M598 356.5h2M610 356.5h1M853 356.5h2M982 356.5h1M1059 356.5h1M83 408.5h1M286 408.5h1M334 350.5h1M843 350.5h1M1054 350.5h1M92 417.5h1M638 334.5h1M1037 334.5h2M413 279.5h2M520 279.5h2M541 279.5h2M99 424.5h1M629 342.5h1M1047 342.5h1M838 345.5h1M1050 345.5h1M839 346.5h1M989 346.5h1M225 475.5h1M257 475.5h1M229 480.5h1M247 480.5h4M181 453.5h3M254 478.5h1M433 274.5h3M440 274.5h2M81 406.5h1M570 305.5h1M752 305.5h1M113 443.5h1M561 294.5h1M766 294.5h3M637 335.5h1M1039 335.5h2M569 304.5h1M302 387.5h1M297 394.5h1M300 390.5h1M630 341.5h1M1046 341.5h1M740 325.5h1M69 395.5h1M296 395.5h1M313 374.5h1M102 428.5h1M759 298.5h2M87 412.5h1M633 338.5h1M1043 338.5h1M76 402.5h1M94 419.5h1M95 420.5h1M337 347.5h1M625 347.5h1M840 347.5h1M226 476.5h1M256 476.5h1M75 401.5h1M116 447.5h1M340 343.5h1M590 343.5h1M628 343.5h1M1048 343.5h1M259 473.5h1M571 306.5h1M751 306.5h1M82 407.5h1M287 407.5h1M104 431.5h1M758 299.5h1M304 385.5h1M307 381.5h1M105 432.5h1M89 414.5h1M299 391.5h1M572 307.5h1M310 377.5h1M71 397.5h1M78 404.5h1M289 404.5h1M88 413.5h1M107 435.5h1M77 403.5h1M290 403.5h1M73 399.5h1M293 399.5h1M96 421.5h1M748 310.5h1M573 308.5h1M110 439.5h1M260 472.5h1M312 375.5h1M72 398.5h1M84 409.5h1M109 438.5h1M90 415.5h1" fill="none" stroke="#d81ed8" stroke-width="1"/>
<line class="ce" x1="65" y1="319.5" x2="1112" y2="319.5" stroke="#f0a03c" stroke-width="1" stroke-dasharray="3 3"/>
<g class="ce" fill="#ffffff">
<rect x="459" y="67" width="7" height="1"/><rect x="461" y="65" width="1" height="4"/>
<rect x="115" y="444" width="7" height="1"/><rect x="117" y="442" width="1" height="4"/>
<rect x="835" y="370" width="7" height="1"/><rect x="837" y="368" width="1" height="4"/>
</g>
<g class="ce">
<rect x="69" y="613" width="1" height="36" fill="#52ba8a"/>
<rect x="77" y="613" width="1" height="45" fill="#52ba8a"/>
<rect x="85" y="613" width="1" height="48" fill="#52ba8a"/>
<rect x="93" y="613" width="1" height="48" fill="#52ba8a"/>
<rect x="101" y="613" width="1" height="50" fill="#52ba8a"/>
<rect x="109" y="613" width="1" height="51" fill="#52ba8a"/>
<rect x="117" y="613" width="1" height="48" fill="#52ba8a"/>
<rect x="125" y="613" width="1" height="32" fill="#52ba8a"/>
<rect x="133" y="613" width="1" height="12" fill="#52ba8a"/>
<rect x="141" y="609" width="1" height="5" fill="#ec4c5c"/>
<rect x="149" y="597" width="1" height="17" fill="#ec4c5c"/>
<rect x="157" y="591" width="1" height="23" fill="#ec4c5c"/>
<rect x="165" y="585" width="1" height="29" fill="#ec4c5c"/>
<rect x="173" y="586" width="1" height="28" fill="#ec4c5c"/>
<rect x="181" y="586" width="1" height="28" fill="#ec4c5c"/>
<rect x="189" y="598" width="1" height="16" fill="#ec4c5c"/>
<rect x="197" y="604" width="1" height="10" fill="#ec4c5c"/>
<rect x="205" y="602" width="1" height="12" fill="#ec4c5c"/>
<rect x="213" y="596" width="1" height="18" fill="#ec4c5c"/>
<rect x="221" y="570" width="1" height="44" fill="#ec4c5c"/>
<rect x="229" y="555" width="1" height="59" fill="#ec4c5c"/>
<rect x="237" y="552" width="1" height="62" fill="#ec4c5c"/>
<rect x="245" y="547" width="1" height="67" fill="#ec4c5c"/>
<rect x="253" y="545" width="1" height="69" fill="#ec4c5c"/>
<rect x="261" y="544" width="1" height="70" fill="#ec4c5c"/>
<rect x="269" y="575" width="1" height="39" fill="#ec4c5c"/>
<rect x="277" y="602" width="1" height="12" fill="#ec4c5c"/>
<rect x="285" y="613" width="1" height="3" fill="#52ba8a"/>
<rect x="293" y="613" width="1" height="3" fill="#52ba8a"/>
<rect x="301" y="613" width="1" height="9" fill="#52ba8a"/>
<rect x="309" y="613" width="1" height="11" fill="#52ba8a"/>
<rect x="317" y="613" width="1" height="13" fill="#52ba8a"/>
<rect x="325" y="613" width="1" height="11" fill="#52ba8a"/>
<rect x="333" y="613" width="1" height="17" fill="#52ba8a"/>
<rect x="341" y="613" width="1" height="27" fill="#52ba8a"/>
<rect x="349" y="613" width="1" height="31" fill="#52ba8a"/>
<rect x="357" y="613" width="1" height="41" fill="#52ba8a"/>
<rect x="365" y="613" width="1" height="48" fill="#52ba8a"/>
<rect x="373" y="613" width="1" height="49" fill="#52ba8a"/>
<rect x="381" y="613" width="1" height="47" fill="#52ba8a"/>
<rect x="389" y="613" width="1" height="38" fill="#52ba8a"/>
<rect x="397" y="613" width="1" height="29" fill="#52ba8a"/>
<rect x="405" y="613" width="1" height="18" fill="#52ba8a"/>
<rect x="413" y="613" width="1" height="12" fill="#52ba8a"/>
<rect x="421" y="609" width="1" height="5" fill="#ec4c5c"/>
<rect x="429" y="601" width="1" height="13" fill="#ec4c5c"/>
<rect x="437" y="597" width="1" height="17" fill="#ec4c5c"/>
<rect x="445" y="591" width="1" height="23" fill="#ec4c5c"/>
<rect x="453" y="581" width="1" height="33" fill="#ec4c5c"/>
<rect x="461" y="586" width="1" height="28" fill="#ec4c5c"/>
<rect x="469" y="588" width="1" height="26" fill="#ec4c5c"/>
<rect x="477" y="596" width="1" height="18" fill="#ec4c5c"/>
<rect x="485" y="609" width="1" height="5" fill="#ec4c5c"/>
<rect x="493" y="613" width="1" height="11" fill="#52ba8a"/>
<rect x="501" y="613" width="1" height="19" fill="#52ba8a"/>
<rect x="509" y="613" width="1" height="40" fill="#52ba8a"/>
<rect x="517" y="613" width="1" height="48" fill="#52ba8a"/>
<rect x="525" y="613" width="1" height="51" fill="#52ba8a"/>
<rect x="533" y="613" width="1" height="57" fill="#52ba8a"/>
<rect x="541" y="613" width="1" height="57" fill="#52ba8a"/>
<rect x="549" y="613" width="1" height="54" fill="#52ba8a"/>
<rect x="557" y="613" width="1" height="52" fill="#52ba8a"/>
<rect x="565" y="613" width="1" height="53" fill="#52ba8a"/>
<rect x="573" y="613" width="1" height="48" fill="#52ba8a"/>
<rect x="581" y="613" width="1" height="48" fill="#52ba8a"/>
<rect x="589" y="613" width="1" height="54" fill="#52ba8a"/>
<rect x="597" y="613" width="1" height="48" fill="#52ba8a"/>
<rect x="605" y="613" width="1" height="38" fill="#52ba8a"/>
<rect x="613" y="613" width="1" height="23" fill="#52ba8a"/>
<rect x="621" y="613" width="1" height="13" fill="#52ba8a"/>
<rect x="629" y="607" width="1" height="7" fill="#ec4c5c"/>
<rect x="637" y="588" width="1" height="26" fill="#ec4c5c"/>
<rect x="645" y="580" width="1" height="34" fill="#ec4c5c"/>
<rect x="653" y="597" width="1" height="17" fill="#ec4c5c"/>
<rect x="661" y="603" width="1" height="11" fill="#ec4c5c"/>
<rect x="669" y="609" width="1" height="5" fill="#ec4c5c"/>
<rect x="677" y="612" width="1" height="2" fill="#ec4c5c"/>
<rect x="685" y="609" width="1" height="5" fill="#ec4c5c"/>
<rect x="693" y="607" width="1" height="7" fill="#ec4c5c"/>
<rect x="701" y="599" width="1" height="15" fill="#ec4c5c"/>
<rect x="709" y="595" width="1" height="19" fill="#ec4c5c"/>
<rect x="717" y="593" width="1" height="21" fill="#ec4c5c"/>
<rect x="725" y="591" width="1" height="23" fill="#ec4c5c"/>
<rect x="733" y="589" width="1" height="25" fill="#ec4c5c"/>
<rect x="741" y="594" width="1" height="20" fill="#ec4c5c"/>
<rect x="749" y="600" width="1" height="14" fill="#ec4c5c"/>
<rect x="757" y="603" width="1" height="11" fill="#ec4c5c"/>
<rect x="765" y="605" width="1" height="9" fill="#ec4c5c"/>
<rect x="773" y="603" width="1" height="11" fill="#ec4c5c"/>
<rect x="781" y="603" width="1" height="11" fill="#ec4c5c"/>
<rect x="789" y="606" width="1" height="8" fill="#ec4c5c"/>
<rect x="797" y="602" width="1" height="12" fill="#ec4c5c"/>
<rect x="805" y="605" width="1" height="9" fill="#ec4c5c"/>
<rect x="813" y="613" width="1" height="8" fill="#52ba8a"/>
<rect x="821" y="613" width="1" height="30" fill="#52ba8a"/>
<rect x="829" y="613" width="1" height="46" fill="#52ba8a"/>
<rect x="837" y="613" width="1" height="54" fill="#52ba8a"/>
<rect x="845" y="613" width="1" height="47" fill="#52ba8a"/>
<rect x="853" y="613" width="1" height="35" fill="#52ba8a"/>
<rect x="861" y="613" width="1" height="23" fill="#52ba8a"/>
<rect x="869" y="613" width="1" height="14" fill="#52ba8a"/>
<rect x="877" y="613" width="1" height="7" fill="#52ba8a"/>
<rect x="885" y="613" width="1" height="5" fill="#52ba8a"/>
<rect x="893" y="605" width="1" height="9" fill="#ec4c5c"/>
<rect x="901" y="607" width="1" height="7" fill="#ec4c5c"/>
<rect x="909" y="609" width="1" height="5" fill="#ec4c5c"/>
<rect x="917" y="608" width="1" height="6" fill="#ec4c5c"/>
<rect x="925" y="608" width="1" height="6" fill="#ec4c5c"/>
<rect x="933" y="608" width="1" height="6" fill="#ec4c5c"/>
<rect x="941" y="602" width="1" height="12" fill="#ec4c5c"/>
<rect x="949" y="596" width="1" height="18" fill="#ec4c5c"/>
<rect x="957" y="592" width="1" height="22" fill="#ec4c5c"/>
<rect x="965" y="581" width="1" height="33" fill="#ec4c5c"/>
<rect x="973" y="579" width="1" height="35" fill="#ec4c5c"/>
<rect x="981" y="582" width="1" height="32" fill="#ec4c5c"/>
<rect x="989" y="588" width="1" height="26" fill="#ec4c5c"/>
<rect x="997" y="600" width="1" height="14" fill="#ec4c5c"/>
<rect x="1005" y="610" width="1" height="4" fill="#ec4c5c"/>
<rect x="1013" y="613" width="1" height="5" fill="#52ba8a"/>
<rect x="1021" y="613" width="1" height="12" fill="#52ba8a"/>
<rect x="1029" y="613" width="1" height="11" fill="#52ba8a"/>
<rect x="1037" y="613" width="1" height="16" fill="#52ba8a"/>
<rect x="1045" y="613" width="1" height="23" fill="#52ba8a"/>
<rect x="1053" y="613" width="1" height="28" fill="#52ba8a"/>
<rect x="1061" y="613" width="1" height="29" fill="#52ba8a"/>
<rect x="1069" y="613" width="1" height="29" fill="#52ba8a"/>
<rect x="1077" y="613" width="1" height="23" fill="#52ba8a"/>
<rect x="1085" y="613" width="1" height="15" fill="#52ba8a"/>
</g>
<path class="ce" d="M624.5 650v2M247.5 520v2M451.5 555v2M514.5 594v2M817.5 622v2M269.5 515v2M215.5 571v2M814.5 615v2M219.5 563v2M821.5 631v2M77.5 592v2M635.5 635v2M223.5 555v2M226.5 549v2M214.5 573v2M824.5 636v2M506.5 582v2M272.5 519v2M813.5 613v2M218.5 565v2M358.5 572v2M229.5 543v2M140.5 606v2M820.5 629v2M225.5 551v2M253.5 513v2M224.5 553v2M964.5 611v2M827.5 641v2M509.5 587v2M632.5 640v2M644.5 623v2M220.5 561v2M275.5 523v2M502.5 574v2M815.5 617v3M213.5 575v2M232.5 539v2M823.5 634v2M826.5 639v2M505.5 580v2M819.5 626v3M837.5 653v2M228.5 545v2M243.5 525v2M829.5 644v2M640.5 628v2M263.5 507v2M508.5 585v2M511.5 590v2M504.5 578v2M236.5 534v2M353.5 566v2M227.5 547v2M239.5 530v2M222.5 557v2M503.5 576v2M266.5 511v2M818.5 624v2M630.5 643v2M637.5 632v2M217.5 567v2M260.5 505v2M816.5 620v2M633.5 638v2M221.5 559v2M216.5 569v2M530.5 611v2M553 630.5h1M639 630.5h1M654 630.5h5M695 630.5h1M940 630.5h2M1039 630.5h1M565 639.5h2M890 639.5h2M1052 639.5h1M560 636.5h2M916 636.5h8M1048 636.5h1M356 570.5h1M434 570.5h3M497 570.5h2M343 557.5h1M450 557.5h1M482 557.5h1M557 634.5h2M636 634.5h1M669 634.5h4M680 634.5h2M930 634.5h4M1045 634.5h1M85 601.5h1M145 601.5h1M520 601.5h1M94 609.5h2M138 609.5h1M528 609.5h1M776 609.5h11M809 609.5h1M967 609.5h1M999 609.5h2M87 603.5h1M143 603.5h1M522 603.5h1M979 603.5h11M555 632.5h1M663 632.5h3M685 632.5h9M936 632.5h2M1042 632.5h1M592 660.5h2M608 660.5h2M98 612.5h1M135 612.5h1M728 612.5h2M748 612.5h19M812 612.5h1M1005 612.5h1M235 536.5h1M298 536.5h2M80 596.5h1M150 596.5h1M515 596.5h1M115 625.5h4M544 625.5h2M643 625.5h1M648 625.5h1M701 625.5h2M950 625.5h1M1030 625.5h2M70 585.5h1M165 585.5h1M370 585.5h1M414 585.5h1M113 624.5h2M119 624.5h1M542 624.5h2M647 624.5h1M703 624.5h2M951 624.5h1M1028 624.5h2M579 647.5h1M627 647.5h1M831 647.5h1M870 647.5h3M577 646.5h2M628 646.5h1M830 646.5h1M873 646.5h3M1067 646.5h13M551 629.5h2M653 629.5h1M696 629.5h2M942 629.5h2M1037 629.5h2M90 605.5h1M141 605.5h1M524 605.5h1M795 605.5h2M798 605.5h8M973 605.5h3M992 605.5h2M180 578.5h3M209 578.5h2M363 578.5h1M421 578.5h1M99 613.5h2M134 613.5h1M531 613.5h1M725 613.5h3M963 613.5h1M1006 613.5h2M154 593.5h1M513 593.5h1M96 610.5h1M137 610.5h1M529 610.5h1M732 610.5h12M771 610.5h5M810 610.5h1M965 610.5h2M1001 610.5h2M562 637.5h1M634 637.5h1M893 637.5h12M912 637.5h4M1049 637.5h2M336 551.5h1M466 551.5h7M556 633.5h1M666 633.5h3M682 633.5h3M822 633.5h1M934 633.5h2M1043 633.5h2M573 643.5h2M828 643.5h1M886 643.5h1M1059 643.5h2M1085 643.5h1M586 654.5h1M620 654.5h2M838 654.5h5M847 654.5h3M337 552.5h1M462 552.5h4M473 552.5h5M596 663.5h1M598 663.5h4M348 561.5h1M446 561.5h1M487 561.5h1M238 532.5h1M285 532.5h3M338 553.5h1M454 553.5h8M478 553.5h1M92 607.5h1M526 607.5h1M791 607.5h2M807 607.5h1M970 607.5h1M996 607.5h2M171 582.5h2M191 582.5h3M200 582.5h2M367 582.5h1M417 582.5h1M93 608.5h1M139 608.5h1M527 608.5h1M787 608.5h4M808 608.5h1M968 608.5h2M998 608.5h1M72 587.5h1M162 587.5h1M372 587.5h1M404 587.5h5M107 620.5h1M125 620.5h1M538 620.5h1M711 620.5h2M956 620.5h1M1018 620.5h2M259 507.5h1M546 626.5h2M642 626.5h1M649 626.5h1M700 626.5h1M948 626.5h2M1032 626.5h2M355 569.5h1M437 569.5h1M496 569.5h1M554 631.5h1M638 631.5h1M659 631.5h4M694 631.5h1M938 631.5h2M1040 631.5h2M584 652.5h1M623 652.5h1M836 652.5h1M854 652.5h2M352 565.5h1M442 565.5h1M492 565.5h1M111 623.5h2M120 623.5h2M541 623.5h1M645 623.5h2M705 623.5h2M952 623.5h1M1025 623.5h3M548 627.5h2M641 627.5h1M650 627.5h1M699 627.5h1M946 627.5h2M1034 627.5h2M103 616.5h1M130 616.5h2M534 616.5h1M719 616.5h2M960 616.5h1M1011 616.5h1M354 568.5h1M438 568.5h2M495 568.5h1M176 580.5h2M186 580.5h2M204 580.5h3M365 580.5h1M419 580.5h1M441 566.5h1M493 566.5h1M237 533.5h1M288 533.5h3M595 662.5h1M602 662.5h4M109 622.5h2M122 622.5h1M540 622.5h1M707 622.5h2M953 622.5h2M1021 622.5h4M315 543.5h11M587 655.5h1M618 655.5h2M843 655.5h4M563 638.5h2M825 638.5h1M892 638.5h1M905 638.5h7M1051 638.5h1M178 579.5h2M183 579.5h3M207 579.5h2M364 579.5h1M420 579.5h1M71 586.5h1M163 586.5h2M371 586.5h1M409 586.5h5M106 619.5h1M126 619.5h1M537 619.5h1M713 619.5h2M957 619.5h1M1016 619.5h2M76 591.5h1M157 591.5h1M379 591.5h2M391 591.5h4M291 534.5h4M251 516.5h1M575 644.5h1M880 644.5h6M1061 644.5h3M1082 644.5h3M230 542.5h1M312 542.5h3M559 635.5h1M673 635.5h7M924 635.5h6M1046 635.5h2M284 531.5h1M108 621.5h1M123 621.5h2M539 621.5h1M709 621.5h2M955 621.5h1M1020 621.5h1M101 614.5h1M133 614.5h1M532 614.5h1M723 614.5h2M962 614.5h1M1008 614.5h1M155 592.5h2M381 592.5h10M512 592.5h1M273 521.5h1M173 581.5h3M188 581.5h3M202 581.5h2M366 581.5h1M418 581.5h1M576 645.5h1M629 645.5h1M876 645.5h4M1064 645.5h3M1080 645.5h2M246 522.5h1M274 522.5h1M84 600.5h1M146 600.5h1M519 600.5h1M69 584.5h1M166 584.5h3M196 584.5h2M369 584.5h1M415 584.5h1M507 584.5h1M585 653.5h1M622 653.5h1M850 653.5h4M74 589.5h1M159 589.5h2M375 589.5h2M399 589.5h3M510 589.5h1M97 611.5h1M136 611.5h1M730 611.5h2M744 611.5h4M767 611.5h4M811 611.5h1M1003 611.5h2M295 535.5h3M91 606.5h1M525 606.5h1M793 606.5h2M806 606.5h1M971 606.5h2M994 606.5h2M344 558.5h1M449 558.5h1M483 558.5h2M589 657.5h1M614 657.5h2M359 574.5h1M426 574.5h2M105 618.5h1M127 618.5h2M536 618.5h1M715 618.5h2M958 618.5h1M1014 618.5h2M254 512.5h1M357 571.5h1M431 571.5h3M499 571.5h1M591 659.5h1M610 659.5h2M361 576.5h1M423 576.5h2M249 518.5h1M271 518.5h1M349 562.5h1M445 562.5h1M488 562.5h1M82 598.5h1M148 598.5h1M517 598.5h1M550 628.5h1M651 628.5h2M698 628.5h1M944 628.5h2M1036 628.5h1M75 590.5h1M158 590.5h1M377 590.5h2M395 590.5h4M169 583.5h2M194 583.5h2M198 583.5h2M368 583.5h1M416 583.5h1M569 641.5h2M888 641.5h1M1055 641.5h2M339 554.5h1M452 554.5h2M479 554.5h1M329 546.5h2M242 527.5h1M278 527.5h2M88 604.5h2M142 604.5h1M523 604.5h1M797 604.5h1M976 604.5h3M990 604.5h2M241 528.5h1M280 528.5h1M331 547.5h2M261 505.5h1M305 539.5h2M102 615.5h1M132 615.5h1M533 615.5h1M721 615.5h2M961 615.5h1M1009 615.5h2M582 650.5h1M834 650.5h1M859 650.5h3M594 661.5h1M606 661.5h2M580 648.5h1M626 648.5h1M832 648.5h1M866 648.5h4M583 651.5h1M835 651.5h1M856 651.5h3M328 545.5h1M234 537.5h1M300 537.5h3M73 588.5h1M161 588.5h1M373 588.5h2M402 588.5h2M440 567.5h1M494 567.5h1M83 599.5h1M147 599.5h1M518 599.5h1M104 617.5h1M129 617.5h1M535 617.5h1M717 617.5h2M959 617.5h1M1012 617.5h2M79 595.5h1M151 595.5h2M86 602.5h1M144 602.5h1M521 602.5h1M571 642.5h2M631 642.5h1M887 642.5h1M1057 642.5h2M256 510.5h1M265 510.5h1M276 525.5h1M350 563.5h1M444 563.5h1M489 563.5h1M307 540.5h3M588 656.5h1M616 656.5h2M581 649.5h1M625 649.5h1M833 649.5h1M862 649.5h4M590 658.5h1M612 658.5h2M257 509.5h1M264 509.5h1M597 664.5h1M245 523.5h1M248 519.5h1M360 575.5h1M425 575.5h1M351 564.5h1M443 564.5h1M490 564.5h2M240 529.5h1M281 529.5h1M429 572.5h2M500 572.5h1M345 559.5h2M448 559.5h1M485 559.5h1M282 530.5h2M567 640.5h2M889 640.5h1M1053 640.5h2M211 577.5h2M362 577.5h1M422 577.5h1M333 548.5h1M262 506.5h1M334 549.5h1M81 597.5h1M149 597.5h1M516 597.5h1M428 573.5h1M501 573.5h1M231 541.5h1M310 541.5h2M340 555.5h1M480 555.5h1M277 526.5h1M341 556.5h2M481 556.5h1M78 594.5h1M153 594.5h1M233 538.5h1M303 538.5h2M258 508.5h1M347 560.5h1M447 560.5h1M486 560.5h1M326 544.5h2M250 517.5h1M270 517.5h1M335 550.5h1M268 514.5h1M252 515.5h1M267 513.5h1M244 524.5h1M255 511.5h1" fill="none" stroke="#f0f0f0" stroke-width="1"/>
<path class="ce" d="M243.5 557v2M590 635.5h1M679 635.5h16M849 635.5h2M939 635.5h4M1076 635.5h6M598 641.5h2M641 641.5h4M870 641.5h9M886 641.5h6M103 592.5h2M180 592.5h3M538 592.5h1M592 637.5h1M658 637.5h9M854 637.5h3M931 637.5h4M580 627.5h1M717 627.5h3M836 627.5h2M963 627.5h2M1056 627.5h2M81 576.5h1M224 576.5h1M397 576.5h3M438 576.5h3M519 576.5h1M102 591.5h1M183 591.5h4M537 591.5h1M122 604.5h2M148 604.5h3M552 604.5h1M239 562.5h1M370 562.5h1M471 562.5h4M490 562.5h6M271 533.5h20M78 574.5h2M226 574.5h1M391 574.5h3M443 574.5h2M516 574.5h2M586 632.5h1M702 632.5h3M844 632.5h2M951 632.5h2M1068 632.5h3M566 615.5h2M764 615.5h7M820 615.5h2M992 615.5h4M1018 615.5h6M574 621.5h1M734 621.5h3M829 621.5h1M976 621.5h2M1040 621.5h3M76 572.5h1M228 572.5h1M386 572.5h2M447 572.5h3M513 572.5h2M596 640.5h2M645 640.5h3M864 640.5h6M892 640.5h10M587 633.5h1M699 633.5h3M846 633.5h1M947 633.5h4M1071 633.5h2M85 579.5h1M220 579.5h1M406 579.5h4M422 579.5h6M523 579.5h2M116 601.5h2M156 601.5h3M549 601.5h1M70 568.5h2M233 568.5h1M379 568.5h2M456 568.5h2M507 568.5h2M568 616.5h1M757 616.5h7M822 616.5h1M988 616.5h4M1024 616.5h4M89 582.5h2M216 582.5h1M527 582.5h1M562 612.5h2M785 612.5h8M814 612.5h3M82 577.5h2M223 577.5h1M400 577.5h3M433 577.5h5M520 577.5h2M262 538.5h1M321 538.5h7M591 636.5h1M667 636.5h12M851 636.5h3M935 636.5h4M1082 636.5h4M118 602.5h2M154 602.5h2M550 602.5h1M261 539.5h1M328 539.5h4M73 570.5h1M230 570.5h1M383 570.5h1M452 570.5h2M510 570.5h2M588 634.5h2M695 634.5h4M847 634.5h2M943 634.5h4M1073 634.5h3M576 623.5h1M729 623.5h3M832 623.5h1M972 623.5h2M1046 623.5h2M95 586.5h1M204 586.5h6M532 586.5h1M263 537.5h1M314 537.5h7M564 613.5h1M778 613.5h7M817 613.5h1M1007 613.5h3M565 614.5h1M771 614.5h7M818 614.5h2M996 614.5h11M1010 614.5h8M236 565.5h1M374 565.5h2M462 565.5h2M502 565.5h1M264 536.5h2M309 536.5h5M69 567.5h1M234 567.5h1M377 567.5h2M458 567.5h2M505 567.5h2M105 593.5h1M177 593.5h3M539 593.5h1M572 619.5h1M742 619.5h4M826 619.5h2M981 619.5h2M1035 619.5h3M238 563.5h1M371 563.5h2M467 563.5h4M496 563.5h4M240 561.5h1M369 561.5h1M475 561.5h15M607 646.5h4M629 646.5h3M126 606.5h5M139 606.5h5M554 606.5h2M84 578.5h1M221 578.5h2M403 578.5h3M428 578.5h5M522 578.5h1M269 534.5h2M291 534.5h13M251 549.5h1M351 549.5h2M617 648.5h7M258 542.5h1M338 542.5h2M595 639.5h1M648 639.5h4M860 639.5h4M902 639.5h15M581 628.5h1M715 628.5h2M838 628.5h1M960 628.5h3M1058 628.5h3M115 600.5h1M159 600.5h2M547 600.5h2M92 584.5h1M213 584.5h2M529 584.5h1M249 551.5h1M354 551.5h2M611 647.5h6M624 647.5h5M106 594.5h2M174 594.5h3M540 594.5h2M593 638.5h2M652 638.5h6M857 638.5h3M917 638.5h14M88 581.5h1M217 581.5h2M413 581.5h4M526 581.5h1M585 631.5h1M705 631.5h4M842 631.5h2M953 631.5h2M1066 631.5h2M582 629.5h1M712 629.5h3M839 629.5h1M958 629.5h2M1061 629.5h2M603 644.5h2M634 644.5h2M86 580.5h2M219 580.5h1M410 580.5h3M417 580.5h5M525 580.5h1M235 566.5h1M376 566.5h1M460 566.5h2M503 566.5h2M561 611.5h1M793 611.5h7M810 611.5h4M257 543.5h1M340 543.5h3M246 554.5h1M359 554.5h1M260 540.5h1M332 540.5h3M560 610.5h1M800 610.5h10M108 595.5h1M172 595.5h2M542 595.5h1M569 617.5h1M751 617.5h6M823 617.5h2M985 617.5h3M1028 617.5h4M573 620.5h1M737 620.5h5M828 620.5h1M978 620.5h3M1038 620.5h2M600 642.5h2M639 642.5h2M879 642.5h7M237 564.5h1M373 564.5h1M464 564.5h3M500 564.5h2M578 625.5h1M723 625.5h3M834 625.5h1M967 625.5h3M1051 625.5h2M241 560.5h1M367 560.5h2M583 630.5h2M709 630.5h3M840 630.5h2M955 630.5h3M1063 630.5h3M259 541.5h1M335 541.5h3M111 597.5h1M166 597.5h3M544 597.5h1M101 590.5h1M187 590.5h4M536 590.5h1M72 569.5h1M231 569.5h2M381 569.5h2M454 569.5h2M509 569.5h1M570 618.5h2M746 618.5h5M825 618.5h1M983 618.5h2M1032 618.5h3M131 607.5h8M556 607.5h1M80 575.5h1M225 575.5h1M394 575.5h3M441 575.5h2M518 575.5h1M558 609.5h2M99 589.5h2M191 589.5h4M535 589.5h1M577 624.5h1M726 624.5h3M833 624.5h1M970 624.5h2M1048 624.5h3M98 588.5h1M195 588.5h4M534 588.5h1M253 547.5h1M349 547.5h1M124 605.5h2M144 605.5h4M553 605.5h1M113 599.5h2M161 599.5h3M546 599.5h1M93 585.5h2M210 585.5h3M530 585.5h2M579 626.5h1M720 626.5h3M835 626.5h1M965 626.5h2M1053 626.5h3M254 546.5h1M347 546.5h2M96 587.5h2M199 587.5h5M533 587.5h1M575 622.5h1M732 622.5h2M830 622.5h2M974 622.5h2M1043 622.5h3M77 573.5h1M227 573.5h1M388 573.5h3M445 573.5h2M515 573.5h1M120 603.5h2M151 603.5h3M551 603.5h1M256 544.5h1M343 544.5h3M74 571.5h2M229 571.5h1M384 571.5h2M450 571.5h2M512 571.5h1M242 559.5h1M366 559.5h1M266 535.5h3M304 535.5h5M109 596.5h2M169 596.5h3M543 596.5h1M244 556.5h1M361 556.5h2M248 552.5h1M356 552.5h1M605 645.5h2M632 645.5h2M91 583.5h1M215 583.5h1M528 583.5h1M602 643.5h1M636 643.5h3M247 553.5h1M357 553.5h2M250 550.5h1M353 550.5h1M255 545.5h1M346 545.5h1M112 598.5h1M164 598.5h2M545 598.5h1M557 608.5h1M364 558.5h2M245 555.5h1M360 555.5h1M363 557.5h1M252 548.5h1M350 548.5h1" fill="none" stroke="#e6e614" stroke-width="1"/>
<text x="1053.5" y="664.6" fill="#c9c6c3" style="font-size:30.5px;" textLength="108" lengthAdjust="spacingAndGlyphs">1QH.CN</text>
<text class="ax" x="30.3" y="24.5" textLength="30.5">4.516</text>
<text class="ax" x="1115.5" y="24.5" textLength="30">4.516</text>
<text class="ax" x="30.3" y="81.5" textLength="30.5">4.469</text>
<text class="ax" x="1115.5" y="81.5" textLength="30">4.469</text>
<text class="ax" x="30.3" y="139.5" textLength="30.5">4.421</text>
<text class="ax" x="1115.5" y="139.5" textLength="30">4.421</text>
<text class="ax" x="30.3" y="196.5" textLength="30.5">4.374</text>
<text class="ax" x="1115.5" y="196.5" textLength="30">4.374</text>
<text class="ax" x="30.3" y="254.5" textLength="30.5">4.326</text>
<text class="ax" x="1115.5" y="254.5" textLength="30">4.326</text>
<text class="ax" x="30.3" y="312.5" textLength="30.5">4.279</text>
<text class="ax" x="1115.5" y="312.5" textLength="30">4.279</text>
<text class="ax" x="30.3" y="369.5" textLength="30.5">4.231</text>
<text class="ax" x="1115.5" y="369.5" textLength="30">4.231</text>
<text class="ax" x="30.3" y="427.5" textLength="30.5">4.184</text>
<text class="ax" x="1115.5" y="427.5" textLength="30">4.184</text>
<text class="ax" x="60.8" y="507.5" text-anchor="end">0.050</text>
<text class="ax" x="1115.5" y="507.5">0.050</text>
<text class="ax" x="60.8" y="530.5" text-anchor="end">0.039</text>
<text class="ax" x="1115.5" y="530.5">0.039</text>
<text class="ax" x="60.8" y="554.5" text-anchor="end">0.028</text>
<text class="ax" x="1115.5" y="554.5">0.028</text>
<text class="ax" x="60.8" y="578.5" text-anchor="end">0.017</text>
<text class="ax" x="1115.5" y="578.5">0.017</text>
<text class="ax" x="60.8" y="602.5" text-anchor="end">0.006</text>
<text class="ax" x="1115.5" y="602.5">0.006</text>
<text class="ax" x="60.8" y="626.5" text-anchor="end">-0.005</text>
<text class="ax" x="1115.5" y="626.5">-0.005</text>
<text class="ax" x="60.8" y="650.5" text-anchor="end">-0.016</text>
<text class="ax" x="1115.5" y="650.5">-0.016</text>
<rect class="ce" x="1113" y="367" width="65" height="16" fill="#000"/>
<text x="1115.5" y="379.3" fill="#ee9434" textLength="30">4.232</text>
<rect class="ce" x="1112.5" y="319.5" width="70" height="17" fill="#000" stroke="#f0a03c" stroke-width="1"/>
<text x="1115.5" y="332.3" fill="#ee9434" textLength="30">4.271</text>
<rect class="ce" x="1172" y="311" width="6" height="8" fill="#000"/>
<path d="M1172 315.3 L1176 311.2 L1180 315.3 Z M1172 319.6 L1176 315.6 L1180 319.6 Z" fill="#f5a03c"/>
<text y="14.2" fill="#ececec" style="font-size:11.6px;"><tspan x="66" textLength="23.5">美债</tspan><tspan x="89.8" textLength="12.2" lengthAdjust="spacingAndGlyphs">10</tspan><tspan x="102.5" textLength="49.5">年收益率</tspan></text>
<text x="151" y="14.5" fill="#ff6a00">【</text>
<text x="164.5" y="14.5" fill="#ff6a00" textLength="31.5">240分</text>
<text x="199.5" y="14.5" fill="#ff6a00">】</text>
<g stroke="#ff7400" stroke-width="1" fill="none"><circle cx="214.5" cy="11.5" r="4.2"/><line class="ce" x1="210" y1="11.5" x2="219" y2="11.5"/><line class="ce" x1="214.5" y1="7" x2="214.5" y2="16"/></g>
<g class="ce"><rect x="227" y="14" width="12" height="1" fill="#8a8a8a"/><rect x="238" y="2" width="1" height="13" fill="#8a8a8a"/><rect x="226.5" y="1.5" width="11" height="12" fill="#ffffff" stroke="#00008c" stroke-width="1"/></g>
<polyline points="227.3,8.6 230.5,4.6 233.5,7.6 235.6,5.5 237,5.5" fill="none" stroke="#ff0000" stroke-width="1.1"/>
<polyline points="227.3,11.8 230.5,7.6 233.5,10.6 235.6,8.4 237,8.4" fill="none" stroke="#0000ff" stroke-width="1.1"/>
<text x="241.5" y="13.8" fill="#dcdcdc" textLength="60.5">BOLL(20,2)</text>
<text x="307.5" y="13.8" fill="#dcdcdc" textLength="57.5">MID:4.291</text>
<text x="375" y="13.8" fill="#c8c81e" textLength="70.5">UPPER:4.354</text>
<text x="455" y="13.8" fill="#d020d0" textLength="75.5">LOWER:4.229</text>
<g class="ce">
<rect x="1048" y="0" width="16" height="16" fill="#0a0a0a"/>
<rect x="1049.5" y="1.5" width="13" height="13" fill="#000" stroke="#a8a8a8" stroke-width="1"/>
<rect x="1064" y="0" width="16" height="16" fill="#0a0a0a"/>
<rect x="1065.5" y="1.5" width="13" height="13" fill="#000" stroke="#a8a8a8" stroke-width="1"/>
<rect x="1080" y="0" width="16" height="16" fill="#0a0a0a"/>
<rect x="1081.5" y="1.5" width="13" height="13" fill="#000" stroke="#a8a8a8" stroke-width="1"/>
<rect x="1096" y="0" width="16" height="16" fill="#0a0a0a"/>
<rect x="1097.5" y="1.5" width="13" height="13" fill="#000" stroke="#a8a8a8" stroke-width="1"/>
</g>
<g class="ce" fill="#a8a8a8" stroke="none">
<rect x="1055" y="3" width="2" height="2"/><rect x="1055" y="7" width="2" height="2"/><rect x="1055" y="11" width="2" height="2"/><rect x="1051" y="7" width="3" height="2"/><rect x="1058" y="7" width="3" height="2"/>
<rect x="1068" y="4" width="1" height="8"/><rect x="1068" y="11" width="8" height="1"/>
<rect x="1071" y="4" width="1" height="6"/>
<rect x="1084" y="4" width="1" height="8"/><rect x="1084" y="11" width="8" height="1"/>
<rect x="1099" y="3" width="1" height="10"/><rect x="1102" y="3" width="1" height="10"/><rect x="1099" y="3" width="4" height="1"/><rect x="1099" y="12" width="4" height="1"/><rect x="1101" y="7" width="5" height="1"/>
</g>
<g fill="#a8a8a8" stroke="none">
<path d="M1068.5 2.6 L1070.2 5 L1066.8 5 Z M1066.6 11.5 L1068.8 10 L1068.8 13 Z M1077.4 11.5 L1075.2 10 L1075.2 13 Z M1072.3 7 L1075 4.5 L1075 9.5 Z"/>
<path d="M1084.5 2.6 L1086.2 5 L1082.8 5 Z M1082.6 11.5 L1084.8 10 L1084.8 13 Z M1093.4 11.5 L1091.2 10 L1091.2 13 Z M1087.3 4 L1092 7.4 L1087.3 10.8 Z"/>
<path d="M1105 4.4 L1108.2 7.5 L1105 10.6 Z"/>
</g>
<text x="66.5" y="497" fill="#dcdcdc" textLength="85">MACD(26,12,9)</text>
<text x="157" y="497" fill="#dcdcdc" textLength="62.5">DIFF:-0.014</text>
<text x="228.8" y="497" fill="#c8c81e" textLength="62">DEA:-0.010</text>
<text x="299.5" y="497" fill="#d020d0" textLength="75.5">MACD:-0.006</text>
<g><circle cx="3" cy="490" r="3.6" fill="#000"/><circle cx="3" cy="490" r="2.8" fill="#fff"/><circle cx="3" cy="490" r="1.6" fill="#ff0000"/>
<g class="ce" fill="#ff0000"><rect x="2" y="483" width="1" height="2"/><rect x="2" y="495" width="1" height="2"/><rect x="8" y="489" width="2" height="1"/><rect x="7" y="485" width="1" height="1"/><rect x="8" y="484" width="1" height="1"/><rect x="7" y="494" width="1" height="1"/><rect x="8" y="495" width="1" height="1"/></g></g>
<text class="b" x="4.5" y="686" fill="#ff6a00" textLength="34.5">240分</text>
<text class="b" x="41.3" y="686.3" fill="#ff6a00" style="font-size:15px;" textLength="11.8" lengthAdjust="spacingAndGlyphs">▲</text>
<text class="b ax" x="87" y="684" fill="#f0f0f0" textLength="30.5">03/18</text>
<text class="b ax" x="231" y="684" fill="#f0f0f0" textLength="30.5">03/21</text>
<text class="b ax" x="375" y="684" fill="#f0f0f0" textLength="30.5">03/26</text>
<text class="b ax" x="519" y="684" fill="#f0f0f0" textLength="30.5">03/31</text>
<text class="b ax" x="663" y="684" fill="#f0f0f0" textLength="30.5">04/03</text>
<text class="b ax" x="807" y="684" fill="#f0f0f0" textLength="30.5">04/08</text>
<rect class="ce" x="873" y="672" width="163" height="16" fill="#000"/>
<text x="875" y="684" fill="#f0a03c" textLength="100">2026/04/14 19:00</text>
<text x="977.5" y="684" fill="#f0a03c" textLength="8">~</text>
<text x="987" y="684" fill="#f0a03c" textLength="31">23:00</text>
<text x="1022" y="684" fill="#f0a03c">二</text>
</svg></body></html>
